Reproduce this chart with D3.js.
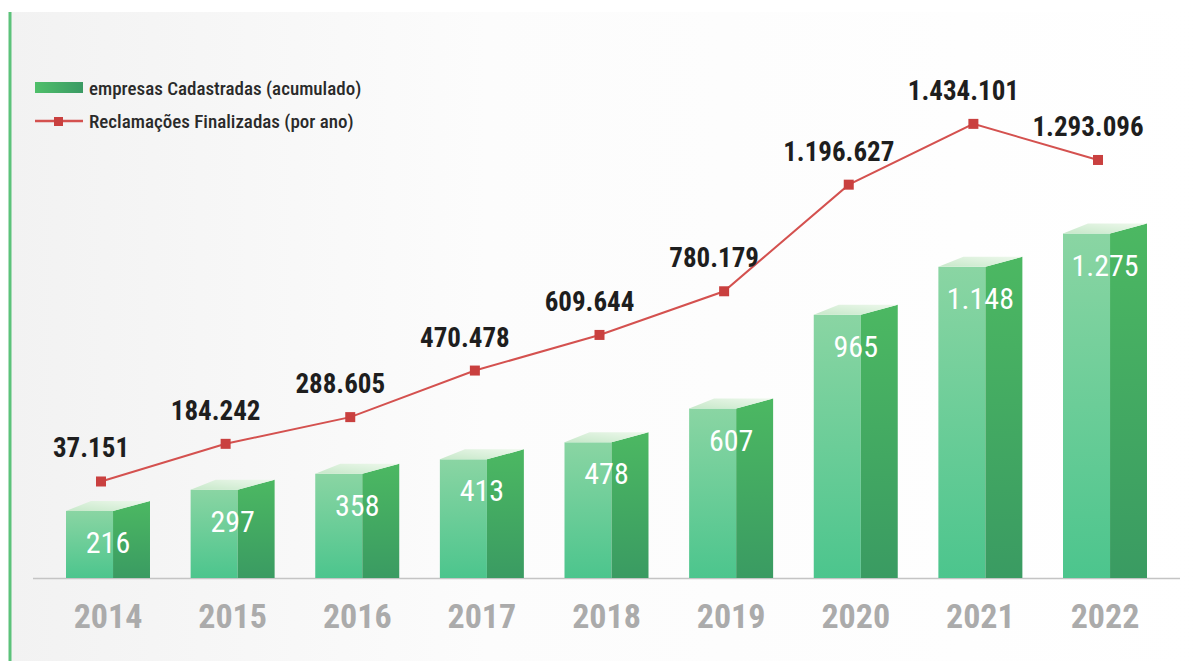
<!DOCTYPE html>
<html>
<head>
<meta charset="utf-8">
<script src="https://cdn.jsdelivr.net/npm/d3@7"></script>
<style>
    body { margin: 0; background: #ffffff; }
    svg { display: block; font-family: "Roboto Condensed", "Liberation Sans Narrow", "DejaVu Sans Condensed", "Roboto", sans-serif; font-stretch: condensed; }
</style>
</head>
<body>
<svg id="drawing_region"></svg>
<script>
const years = ["2014", "2015", "2016", "2017", "2018", "2019", "2020", "2021", "2022"];
const empresas = [216, 297, 358, 413, 478, 607, 965, 1148, 1275];
const reclamacoes = [37151, 184242, 288605, 470478, 609644, 780179, 1196627, 1434101, 1293096];
const legendLabels = ["empresas Cadastradas (acumulado)", "Reclamações Finalizadas (por ano)"];

const ptBR = d3.formatLocale({ decimal: ",", thousands: ".", grouping: [3], currency: ["R$", ""] });
const fmt = ptBR.format(",d");

class Chart3D {

    constructor( config ) {
        this.config = config;
        this.data = years.map( (y, i) => ({ year: y, bar: empresas[i], line: reclamacoes[i] }) );
        this.init();
    }

    init() {
        let self = this;

        self.svg = d3.select( self.config.parent )
            .attr('width', self.config.width)
            .attr('height', self.config.height);

        const defs = self.svg.append('defs');

        const bg = defs.append('linearGradient').attr('id', 'bg').attr('x1', 0).attr('x2', 1).attr('y1', 0).attr('y2', 0);
        bg.append('stop').attr('offset', '0%').attr('stop-color', '#f2f2f2');
        bg.append('stop').attr('offset', '40%').attr('stop-color', '#fcfcfc');
        bg.append('stop').attr('offset', '100%').attr('stop-color', '#ffffff');

        const front = defs.append('linearGradient').attr('id', 'front').attr('x1', 0).attr('x2', 0).attr('y1', 0).attr('y2', 1);
        front.append('stop').attr('offset', '0%').attr('stop-color', '#8ad5a3');
        front.append('stop').attr('offset', '100%').attr('stop-color', '#4cc58d');

        const side = defs.append('linearGradient').attr('id', 'side').attr('x1', 0).attr('x2', 0).attr('y1', 0).attr('y2', 1);
        side.append('stop').attr('offset', '0%').attr('stop-color', '#4cb862');
        side.append('stop').attr('offset', '100%').attr('stop-color', '#3a9b62');

        const top = defs.append('linearGradient').attr('id', 'topface').attr('x1', 0).attr('x2', 1).attr('y1', 1).attr('y2', 0);
        top.append('stop').attr('offset', '0%').attr('stop-color', '#c6e8c9');
        top.append('stop').attr('offset', '100%').attr('stop-color', '#eef8ec');

        const leg = defs.append('linearGradient').attr('id', 'leg').attr('x1', 0).attr('x2', 1).attr('y1', 0).attr('y2', 0);
        leg.append('stop').attr('offset', '0%').attr('stop-color', '#4fbf6a');
        leg.append('stop').attr('offset', '100%').attr('stop-color', '#3a9a64');

        // page background and green left rule
        self.svg.append('rect')
            .attr('x', 10).attr('y', 12)
            .attr('width', self.config.width - 10).attr('height', self.config.height - 12)
            .attr('fill', 'url(#bg)');
        self.svg.append('line')
            .attr('x1', 10).attr('x2', 10).attr('y1', 12).attr('y2', self.config.height)
            .attr('stroke', '#5cc27a').attr('stroke-width', 3);

        self.baseline = 578;

        self.xscale = d3.scaleBand()
            .domain( years )
            .range( [66, 1147] )
            .paddingInner( 0.326 )
            .paddingOuter( 0 );

        self.ybar = d3.scaleLinear()
            .domain( [-40, 1300] )
            .range( [self.baseline, 227] );

        self.yline = d3.scaleLinear()
            .domain( [0, 1500000] )
            .range( [491, 107] );

        self.chart = self.svg.append('g');
    }

    render() {
        let self = this;
        const bw = self.xscale.bandwidth();
        const fw = bw * 0.56;
        const depth = 10;

        // baseline
        self.chart.append('line')
            .attr('x1', 33).attr('x2', 1180)
            .attr('y1', self.baseline + 0.5).attr('y2', self.baseline + 0.5)
            .attr('stroke', '#c4c4c4').attr('stroke-width', 1.5);

        const bars = self.chart.selectAll('.bar')
            .data(self.data)
            .enter()
            .append('g')
            .attr('class', 'bar');

        bars.append('rect')
            .attr('x', d => self.xscale(d.year))
            .attr('y', d => self.ybar(d.bar))
            .attr('width', fw)
            .attr('height', d => self.baseline - self.ybar(d.bar))
            .attr('fill', 'url(#front)');

        bars.append('path')
            .attr('d', d => {
                const x = self.xscale(d.year), t = self.ybar(d.bar);
                return `M${x + fw},${self.baseline} L${x + fw},${t} L${x + bw},${t - depth} L${x + bw},${self.baseline} Z`;
            })
            .attr('fill', 'url(#side)');

        bars.append('path')
            .attr('d', d => {
                const x = self.xscale(d.year), t = self.ybar(d.bar);
                return `M${x},${t} L${x + fw},${t} L${x + bw},${t - depth} L${x + 25},${t - depth} Z`;
            })
            .attr('fill', 'url(#topface)');

        bars.append('text')
            .attr('x', d => self.xscale(d.year) + bw / 2)
            .attr('y', d => Math.min(self.ybar(d.bar) + 42, self.baseline - 12))
            .attr('text-anchor', 'middle')
            .attr('fill', '#ffffff')
            .attr('font-size', 30)
            .text(d => fmt(d.bar));

        // year labels
        self.chart.selectAll('.year')
            .data(self.data)
            .enter()
            .append('text')
            .attr('class', 'year')
            .attr('x', d => self.xscale(d.year) + bw / 2)
            .attr('y', 628)
            .attr('text-anchor', 'middle')
            .attr('fill', '#ababab')
            .attr('font-size', 34)
            .attr('font-weight', 'bold')
            .text(d => d.year);

        // line series
        const mx = d => self.xscale(d.year) + 35;
        const line = d3.line()
            .x(mx)
            .y(d => self.yline(d.line));

        self.chart.append('path')
            .datum(self.data)
            .attr('d', line)
            .attr('fill', 'none')
            .attr('stroke', '#d4514f')
            .attr('stroke-width', 2);

        self.chart.selectAll('.marker')
            .data(self.data)
            .enter()
            .append('rect')
            .attr('class', 'marker')
            .attr('x', d => mx(d) - 5)
            .attr('y', d => self.yline(d.line) - 5)
            .attr('width', 10)
            .attr('height', 10)
            .attr('fill', '#c9403f');

        self.chart.selectAll('.linelabel')
            .data(self.data)
            .enter()
            .append('text')
            .attr('class', 'linelabel')
            .attr('x', d => mx(d) - 10)
            .attr('y', d => self.yline(d.line) - 24)
            .attr('text-anchor', 'middle')
            .attr('fill', '#1e1e1e')
            .attr('font-size', 27)
            .attr('font-weight', 'bold')
            .text(d => fmt(d.line));

        // legend
        const legend = self.svg.append('g');
        legend.append('rect')
            .attr('x', 35).attr('y', 82).attr('width', 48).attr('height', 11)
            .attr('fill', 'url(#leg)');
        legend.append('line')
            .attr('x1', 35).attr('x2', 83).attr('y1', 121).attr('y2', 121)
            .attr('stroke', '#d4514f').attr('stroke-width', 2.5);
        legend.append('rect')
            .attr('x', 54).attr('y', 117).attr('width', 9).attr('height', 9)
            .attr('fill', '#c9403f');
        legend.selectAll('.legtext')
            .data(legendLabels)
            .enter()
            .append('text')
            .attr('x', 89)
            .attr('y', (d, i) => 95 + i * 33)
            .attr('fill', '#2a2a2a')
            .attr('font-size', 19)
            .attr('font-weight', 500)
            .text(d => d);
    }
}

const chart = new Chart3D({ parent: '#drawing_region', width: 1202, height: 661 });
chart.render();
</script>
</body>
</html>
